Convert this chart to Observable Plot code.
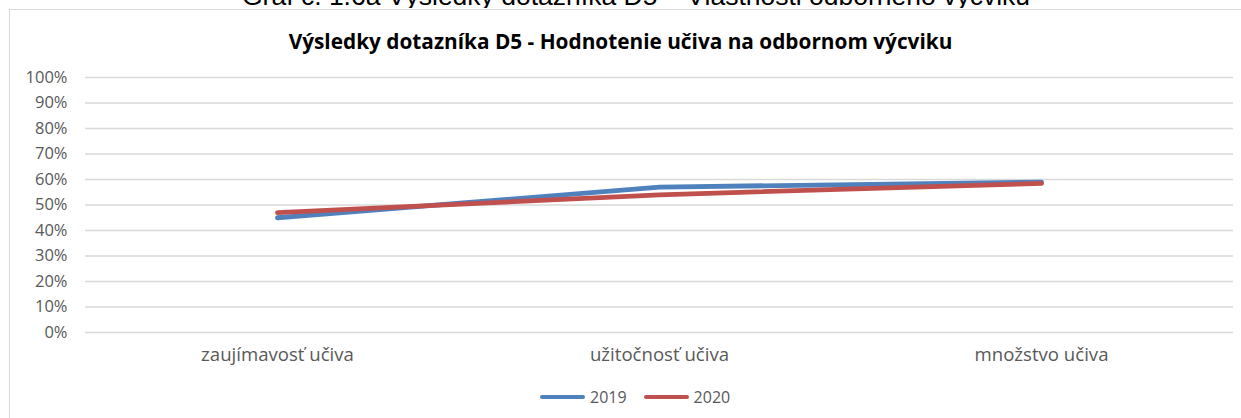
<!DOCTYPE html>
<html>
<head>
<meta charset="utf-8">
<script src="https://cdn.jsdelivr.net/npm/d3@7"></script>
<script src="https://cdn.jsdelivr.net/npm/@observablehq/plot@0.6"></script>
<style>
  html, body { margin: 0; padding: 0; background: #fff; }
  #wrap { position: relative; width: 1241px; height: 418px; overflow: hidden; font-family: "Open Sans", sans-serif; }
  #cut { position: absolute; left: 0; top: 0; width: 1241px; height: 8px; overflow: hidden; }
  #cut span { position: absolute; left: 242px; top: -19px; font-family: "Liberation Sans", Arial, sans-serif; font-size: 26.5px; line-height: 30px; color: #000; white-space: nowrap; }
  #frame { position: absolute; left: 9px; top: 9px; width: 1240px; height: 420px; border-left: 1.5px solid #d9d9d9; border-top: 1.5px solid #d9d9d9; }
  #title { position: absolute; left: 0; width: 1241px; top: 27px; text-align: center; font-weight: bold; font-size: 20.8px; line-height: 28px; color: #000; white-space: nowrap; }
  #chart { position: absolute; left: 0; top: 60px; }
  #legend { position: absolute; left: 540px; top: 386px; display: flex; align-items: center; font-size: 16px; line-height: 22px; color: #595959; }
  .item { display: flex; align-items: center; margin-right: 17px; }
  .sw { display: inline-block; width: 45px; height: 4.5px; border-radius: 2.5px; margin-right: 5px; }
</style>
</head>
<body>
<div id="wrap">
  <div id="cut"><span>Graf č. 1.6a Výsledky dotazníka D5 – Vlastnosti odborného výcviku</span></div>
  <div id="frame"></div>
  <div id="title">Výsledky dotazníka D5 - Hodnotenie učiva na odbornom výcviku</div>
  <div id="chart"></div>
  <div id="legend"></div>
</div>
<script>
const categories = ["zaujímavosť učiva", "užitočnosť učiva", "množstvo učiva"];
const series = ["2019", "2020"];
const values2019 = [45, 57, 59];
const values2020 = [47, 54, 58.5];
const yTicks = [0, 10, 20, 30, 40, 50, 60, 70, 80, 90, 100];
const colors = ["#4f81bd", "#c0504d"];

const data = [];
categories.forEach((c, i) => {
  data.push({category: c, year: series[0], value: values2019[i]});
  data.push({category: c, year: series[1], value: values2020[i]});
});

const chart = Plot.plot({
  width: 1241,
  height: 312,
  marginLeft: 85,
  marginRight: 8,
  marginTop: 17,
  marginBottom: 40,
  style: {fontFamily: "'Open Sans', sans-serif", color: "#595959", background: "transparent", overflow: "visible"},
  x: {type: "point", domain: categories, padding: 0.5, label: null},
  y: {domain: [0, 100], label: null},
  color: {domain: series, range: colors},
  marks: [
    Plot.ruleY(yTicks, {stroke: "#d9d9d9", strokeWidth: 1.3}),
    Plot.axisY(yTicks, {tickSize: 0, tickPadding: 18, tickFormat: d => d + "%", fontSize: 16.5, fill: "#595959"}),
    Plot.axisX({tickSize: 0, tickPadding: 15, fontSize: 18.6, fill: "#595959"}),
    Plot.lineY(data, {x: "category", y: "value", z: "year", stroke: "year", strokeWidth: 4.8, strokeLinecap: "round", strokeLinejoin: "round"})
  ]
});
document.getElementById("chart").appendChild(chart);

const legend = document.getElementById("legend");
series.forEach((s, i) => {
  const it = document.createElement("div");
  it.className = "item";
  it.innerHTML = `<span class="sw" style="background:${colors[i]}"></span><span>${s}</span>`;
  legend.appendChild(it);
});
</script>
</body>
</html>
